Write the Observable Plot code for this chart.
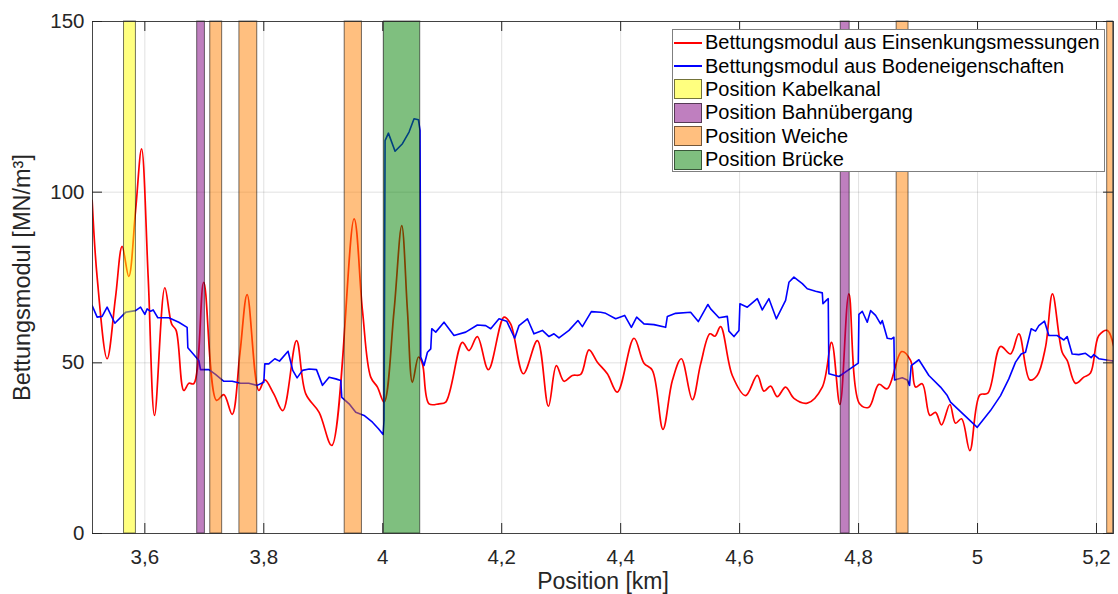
<!DOCTYPE html>
<html>
<head>
<meta charset="utf-8">
<script src="https://cdn.jsdelivr.net/npm/d3@7"></script>
<script src="https://cdn.jsdelivr.net/npm/@observablehq/plot@0.6"></script>
<style>
  body { margin: 0; background: #fff; font-family: "Liberation Sans", Arial, Helvetica, sans-serif; }
  #chart { position: relative; width: 1118px; height: 594px; }
  #legend {
    position: absolute; left: 672px; top: 29px; width: 433px; height: 143px;
    box-sizing: border-box; background: #fff; border: 1px solid #7f7f7f; padding-top: 1px;
  }
  .row { height: 23.4px; display: flex; align-items: center; font-size: 20px; color: #000; white-space: nowrap; }
  .key { width: 28px; margin-left: 1px; margin-right: 3px; box-sizing: border-box; flex: none; }
  .key.line { height: 0; border-top: 2px solid; }
  .key.patch { height: 20px; border: 1px solid rgba(0,0,0,0.55); }
</style>
</head>
<body>
<div id="chart"></div>
<script>
// Measured track stiffness (red) along the line, km positions
const redX = [3.5114,3.5198,3.5366,3.5507,3.5618,3.573,3.5844,3.5945,3.6056,3.6163,3.6336,3.645,3.6526,3.6655,3.674,3.6824,3.699,3.7205,3.7328,3.7468,3.760,3.772,3.7916,3.8017,3.8168,3.832,3.855,3.8706,3.893,3.9143,3.9518,3.9659,3.9798,3.9911,4.0022,4.019,4.0319,4.0415,4.0499,4.06,4.0667,4.0778,4.0946,4.1059,4.1339,4.145,4.159,4.1776,4.2039,4.215,4.2364,4.26,4.2785,4.2919,4.3047,4.3188,4.3328,4.3467,4.3608,4.3776,4.3944,4.4224,4.4392,4.4533,4.4711,4.4869,4.502,4.5205,4.5345,4.5501,4.5585,4.568,4.5877,4.61,4.6297,4.6409,4.6521,4.6633,4.6773,4.6913,4.7138,4.739,4.7546,4.7686,4.7837,4.8017,4.8173,4.8341,4.8482,4.8723,4.8874,4.8958,4.907,4.9199,4.9294,4.9395,4.9535,4.963,4.9731,4.9871,5.0039,5.0173,5.0387,5.0555,5.0695,5.0879,5.1003,5.1143,5.126,5.1423,5.1507,5.1647,5.1787,5.1899,5.2039,5.218,5.2291];
const redY = [97.6,75.1,51.2,69.2,84.1,75.3,94.6,112.7,75.1,34.6,72.0,61.4,59.5,41.9,44.0,43.9,73.6,39.0,40.7,34.9,53.0,70.0,41.9,45.0,40.9,36.0,56.5,40.9,35.5,25.8,92.2,65.3,45.8,42.9,38.5,65.3,90.2,65.3,44.3,51.7,49.7,38.0,38.0,38.5,56.0,53.6,57.7,48.0,63.4,61.4,46.8,56.5,37.3,49.2,44.6,46.3,46.6,53.8,50.2,46.8,41.4,57.2,49.9,47.8,30.5,44.8,51.2,39.2,49.7,58.5,57.8,60.6,46.3,40.4,46.3,41.7,43.2,40.1,42.9,39.6,38.2,42.9,56.0,37.8,70.2,38.0,37.0,43.7,42.4,53.3,50.7,42.9,43.9,34.6,35.5,31.8,37.8,32.3,33.6,24.3,40.6,41.1,54.8,52.6,58.5,45.0,46.3,54.6,70.2,53.1,50.7,44.0,45.8,47.0,58.0,59.5,54.8];

// Stiffness derived from soil properties (blue)
const blueX = [3.5114,3.5198,3.5282,3.5366,3.5496,3.5676,3.5844,3.5928,3.6,3.6039,3.6096,3.614,3.6218,3.6403,3.6571,3.6711,3.6723,3.6908,3.6936,3.7076,3.7188,3.7328,3.7468,3.7608,3.7748,3.7887,3.8,3.8017,3.8084,3.8185,3.8264,3.8408,3.8487,3.856,3.865,3.8762,3.8886,3.8987,3.9098,3.921,3.9294,3.9311,3.9434,3.9546,3.9686,3.9827,3.9928,4.0006,4.0022,4.0039,4.0095,4.0207,4.0331,4.0442,4.0526,4.06,4.0627,4.0639,4.0694,4.0751,4.0807,4.0824,4.0891,4.103,4.1198,4.1395,4.1591,4.1731,4.1815,4.1955,4.2084,4.2218,4.2291,4.2432,4.2543,4.2684,4.2795,4.2879,4.2963,4.3131,4.3282,4.3356,4.3507,4.3664,4.3748,4.3916,4.4067,4.418,4.4269,4.4392,4.456,4.4756,4.4785,4.4924,4.5176,4.5305,4.5467,4.5513,4.5653,4.5793,4.582,4.5905,4.5989,4.6005,4.6129,4.6297,4.6381,4.6493,4.6617,4.6773,4.6829,4.6913,4.7054,4.7138,4.7277,4.739,4.7401,4.7457,4.749,4.7501,4.767,4.7837,4.7995,4.8006,4.8062,4.8146,4.8202,4.8286,4.837,4.8398,4.8482,4.8555,4.8594,4.8605,4.8734,4.8818,4.8857,4.8885,4.9014,4.9182,4.9378,4.9491,4.9546,4.9995,5.0218,5.0387,5.0526,5.0639,5.0734,5.0807,5.0902,5.0975,5.1031,5.1126,5.1199,5.1339,5.1451,5.1507,5.1591,5.1703,5.1815,5.191,5.1955,5.2039,5.2291];
const blueY = [66.8,63.4,63.6,66.3,61.6,64.8,65.3,66.3,64.2,65.8,65.1,65.5,63.2,63.2,61.9,60.4,54.4,50.7,48.0,48.0,46.6,44.6,44.6,44.0,44.0,43.4,44.3,49.7,49.7,51.2,50.5,53.4,47.8,45.6,47.8,48.2,48.0,43.4,45.8,45.3,44.8,39.9,38.0,35.5,34.6,32.6,30.7,29.0,33.1,115.1,117.3,112.0,114.2,117.6,121.5,121.2,118.1,51.7,49.2,53.1,54.1,60.0,59.0,61.9,58.0,59.0,61.1,60.9,60.0,62.9,62.2,57.2,60.9,62.9,58.5,59.5,57.7,58.5,57.3,59.5,62.4,60.6,65.0,64.8,64.5,62.9,63.9,60.4,63.4,61.4,61.2,60.4,63.6,64.5,64.8,62.1,67.1,65.8,63.2,63.6,59.3,57.7,59.5,67.3,66.3,68.8,65.5,68.8,62.9,68.3,73.6,75.1,73.2,71.7,71.0,70.5,67.3,68.3,68.8,46.8,46.0,48.0,49.9,64.2,65.1,61.9,65.3,63.9,61.4,62.4,57.2,57.0,57.5,45.0,45.6,45.0,43.4,49.2,50.9,46.3,42.9,40.4,38.5,31.1,36.0,40.4,45.3,50.2,52.6,53.1,60.0,59.3,60.9,62.2,58.0,58.0,56.7,57.7,52.6,52.4,52.8,51.5,52.4,51.2,50.5];

// Structures along the track (start / end in km)
const bandKind  = ["Kabelkanal","Bahnübergang","Weiche","Weiche","Weiche","Brücke","Bahnübergang","Weiche","Weiche"];
const bandStart = [3.565,3.688,3.710,3.759,3.936,4.002,4.770,4.864,5.218];
const bandEnd   = [3.585,3.701,3.730,3.789,3.965,4.063,4.785,4.884,5.228];

const kindColor = {Kabelkanal: "#ffff00", "Bahnübergang": "#800080", Weiche: "#ff8000", "Brücke": "#008000"};
const kindOrder = ["Kabelkanal","Bahnübergang","Weiche","Brücke"];

const xTicks = [3.6,3.8,4,4.2,4.4,4.6,4.8,5,5.2];
const yTicks = [0,50,100,150];
const xDomain = [3.512, 5.2286];
const yDomain = [0, 150];

const seriesNames = ["Bettungsmodul aus Einsenkungsmessungen", "Bettungsmodul aus Bodeneigenschaften"];
const xLabel = "Position [km]";
const yLabel = "Bettungsmodul [MN/m³]";

const red = redX.map((x, i) => ({x, y: redY[i]}));
const blue = blueX.map((x, i) => ({x, y: blueY[i]}));
const bands = bandKind.map((kind, i) => ({kind, x1: bandStart[i], x2: bandEnd[i]}));

const W = 1118, H = 594, mL = 92, mR = 5, mT = 21, mB = 61;
const plotW = W - mL - mR, plotH = H - mT - mB, tickLen = 10;
const axisColor = "#262626";
const fmt = d => String(d).replace(".", ",");

const chart = Plot.plot({
  width: W, height: H,
  marginLeft: mL, marginRight: mR, marginTop: mT, marginBottom: mB,
  x: {domain: xDomain},
  y: {domain: yDomain},
  style: {fontFamily: '"Liberation Sans", Arial, Helvetica, sans-serif', fontSize: "20.5px", color: axisColor, background: "#fff", overflow: "visible"},
  marks: [
    Plot.gridX(xTicks, {stroke: "#000", strokeOpacity: 0.12}),
    Plot.gridY(yTicks, {stroke: "#000", strokeOpacity: 0.12}),
    Plot.line(red, {x: "x", y: "y", stroke: "#ff0000", strokeWidth: 1.7, curve: "catmull-rom", clip: true}),
    Plot.line(blue, {x: "x", y: "y", stroke: "#0000ff", strokeWidth: 1.6, clip: true}),
    ...kindOrder.map(k => Plot.rect(bands.filter(b => b.kind === k), {
      x1: "x1", x2: "x2", y1: () => yDomain[0], y2: () => yDomain[1],
      fill: kindColor[k], fillOpacity: 0.5, stroke: "#000", strokeOpacity: 0.55, strokeWidth: 1
    })),
    // inward tick marks on all four sides
    Plot.tickX(xTicks, {x: d => d, insetTop: plotH - tickLen, stroke: axisColor}),
    Plot.tickX(xTicks, {x: d => d, insetBottom: plotH - tickLen, stroke: axisColor}),
    Plot.tickY(yTicks, {y: d => d, insetRight: plotW - tickLen, stroke: axisColor}),
    Plot.tickY(yTicks, {y: d => d, insetLeft: plotW - tickLen, stroke: axisColor}),
    Plot.frame({stroke: axisColor, strokeOpacity: 0.85}),
    Plot.axisX({ticks: xTicks, tickSize: 0, tickPadding: 16, tickFormat: fmt, label: null, fontSize: 20.5}),
    Plot.axisY({ticks: yTicks, tickSize: 0, tickPadding: 8, label: null, fontSize: 20.5}),
    Plot.text([xLabel], {frameAnchor: "bottom", dy: 48, lineAnchor: "middle", textAnchor: "middle", fontSize: 23, fill: axisColor}),
    Plot.text([yLabel], {frameAnchor: "left", dx: -70, rotate: -90, lineAnchor: "middle", textAnchor: "middle", fontSize: 23.5, fill: axisColor})
  ]
});

const root = document.getElementById("chart");
root.appendChild(chart);

// Legend box in the upper right corner of the axes
const legend = document.createElement("div");
legend.id = "legend";
const lineColors = ["#ff0000", "#0000ff"];
seriesNames.forEach((name, i) => {
  const row = document.createElement("div");
  row.className = "row";
  row.innerHTML = `<span class="key line" style="border-top-color:${lineColors[i]}"></span><span>${name}</span>`;
  legend.appendChild(row);
});
kindOrder.forEach(k => {
  const row = document.createElement("div");
  row.className = "row";
  const c = d3.color(kindColor[k]); c.opacity = 0.5;
  row.innerHTML = `<span class="key patch" style="background:${c.formatRgb()}"></span><span>Position ${k}</span>`;
  legend.appendChild(row);
});
root.appendChild(legend);
</script>
</body>
</html>
